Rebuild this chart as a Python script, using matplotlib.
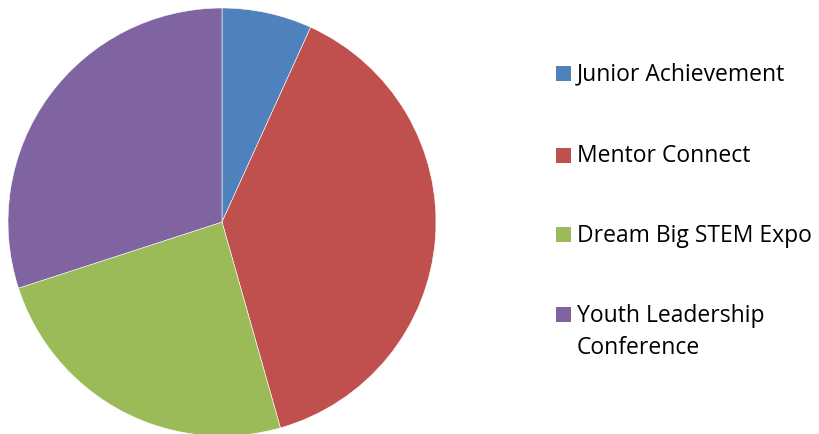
import matplotlib
matplotlib.use("Agg")
import matplotlib.pyplot as plt
from matplotlib.patches import Rectangle

categories = ["Junior Achievement", "Mentor Connect", "Dream Big STEM Expo", "Youth Leadership\nConference"]
values = [6.8, 38.8, 24.4, 30.0]
colors = ["#4F81BD", "#C0504D", "#9BBB59", "#8064A2"]

W, H = 820, 434
fig = plt.figure(figsize=(W/100, H/100), dpi=100)
cx, cy, r = 222, 222, 214
ax = fig.add_axes([(cx - r)/W, (H - cy - r)/H, 2*r/W, 2*r/H])
ax.pie(values, colors=colors, startangle=90, counterclock=False, radius=1,
       wedgeprops=dict(edgecolor="white", linewidth=0.4))
ax.set_xlim(-1, 1)
ax.set_ylim(-1, 1)
ax.set_aspect("equal")
ax.axis("off")

rows_y = [73.5, 155, 234.5, 314.5]
for cat, col, y in zip(categories, colors, rows_y):
    fig.patches.append(Rectangle((556/W, (H - y - 7.5)/H), 15/W, 15/H,
                                 transform=fig.transFigure, facecolor=col, edgecolor="none"))
    lines = cat.split("\n")
    for i, ln in enumerate(lines):
        fig.text(577/W, (H - y - 1 - i*33)/H, ln, fontsize=16.5, family="Open Sans",
                 color="#000000", va="center", ha="left")

fig.savefig("out.png", dpi=100)
